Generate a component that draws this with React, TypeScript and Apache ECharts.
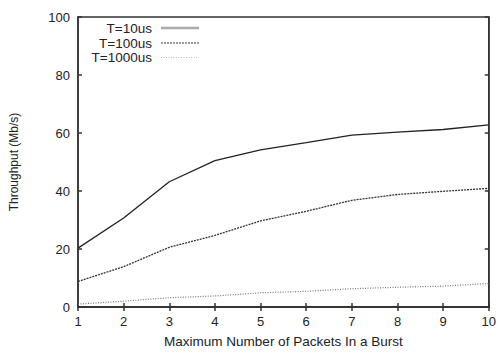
import React, { useEffect, useRef } from "react";
import * as echarts from "echarts";

const xValues = [1, 2, 3, 4, 5, 6, 7, 8, 9, 10];
const t10 = [20.3, 30.7, 43.2, 50.5, 54.2, 56.7, 59.3, 60.3, 61.2, 62.8];
const t100 = [8.8, 13.9, 20.6, 24.7, 29.7, 33.0, 36.8, 38.8, 39.9, 40.9];
const t1000 = [1.0, 2.0, 3.2, 3.8, 4.9, 5.4, 6.3, 6.8, 7.2, 8.1];
const seriesNames = ["T=10us", "T=100us", "T=1000us"];
const yTicks = [0, 20, 40, 60, 80, 100];

const FONT = "'Liberation Sans', Arial, sans-serif";

export default function App() {
  const ref = useRef<HTMLDivElement>(null);
  useEffect(() => {
    if (!ref.current) return;
    const chart = echarts.init(ref.current, null, { renderer: "svg" });
    const pairs = (ys: number[]) => xValues.map((x, i) => [x, ys[i]]);
    const axisLineStyle = { color: "#333", width: 1.5 };
    const legendY = [28, 43, 57.5];
    const legendStyles = [
      { stroke: "#aaa", lineWidth: 2.5, lineDash: null as any },
      { stroke: "#333", lineWidth: 1.2, lineDash: [2, 1] },
      { stroke: "#bbb", lineWidth: 1.2, lineDash: [1, 1.5] },
    ];
    const graphic: any[] = [];
    seriesNames.forEach((n, i) => {
      graphic.push({
        type: "text",
        x: 152,
        y: legendY[i],
        style: {
          text: n,
          font: `13.5px ${FONT}`,
          lineHeight: 13,
          fill: "#222",
          align: "right",
          verticalAlign: "middle",
        },
      });
      graphic.push({
        type: "line",
        shape: { x1: 161, y1: legendY[i], x2: 199, y2: legendY[i] },
        style: legendStyles[i],
      });
    });
    chart.setOption({
      animation: false,
      grid: {
        left: 77,
        right: 10,
        top: 17,
        bottom: 40,
        show: true,
        borderColor: "#333",
        borderWidth: 1.5,
      },
      graphic,
      xAxis: [
        {
          type: "value",
          min: 1,
          max: 10,
          interval: 1,
          name: "Maximum Number of Packets In a Burst",
          nameLocation: "middle",
          nameGap: 27,
          nameTextStyle: { fontFamily: FONT, fontSize: 13.5, color: "#222" },
          axisLine: { show: true, lineStyle: axisLineStyle },
          axisTick: { show: true, inside: true, length: 4, lineStyle: axisLineStyle },
          axisLabel: { fontFamily: FONT, fontSize: 13, color: "#222", margin: 8 },
          splitLine: { show: false },
        },
        {
          type: "value",
          position: "top",
          min: 1,
          max: 10,
          interval: 1,
          axisLine: { show: true, lineStyle: axisLineStyle },
          axisTick: { show: true, inside: true, length: 4, lineStyle: axisLineStyle },
          axisLabel: { show: false },
          splitLine: { show: false },
        },
      ],
      yAxis: [
        {
          type: "value",
          min: 0,
          max: 100,
          interval: 20,
          name: "Throughput (Mb/s)",
          nameLocation: "middle",
          nameGap: 58,
          nameTextStyle: { fontFamily: FONT, fontSize: 12, color: "#222" },
          axisLine: { show: true, lineStyle: axisLineStyle },
          axisTick: { show: true, inside: true, length: 4, lineStyle: axisLineStyle },
          axisLabel: {
            fontFamily: FONT,
            fontSize: 13,
            color: "#222",
            margin: 8,
            formatter: (v: number) => (yTicks.includes(v) ? String(v) : ""),
          },
          splitLine: { show: false },
        },
        {
          type: "value",
          position: "right",
          min: 0,
          max: 100,
          interval: 20,
          axisLine: { show: true, lineStyle: axisLineStyle },
          axisTick: { show: true, inside: true, length: 4, lineStyle: axisLineStyle },
          axisLabel: { show: false },
          splitLine: { show: false },
        },
      ],
      series: [
        {
          name: seriesNames[0],
          type: "line",
          data: pairs(t10),
          showSymbol: false,
          lineStyle: { color: "#222", width: 1.3 },
        },
        {
          name: seriesNames[1],
          type: "line",
          data: pairs(t100),
          showSymbol: false,
          lineStyle: { color: "#333", width: 1.3, type: [2, 1] },
        },
        {
          name: seriesNames[2],
          type: "line",
          data: pairs(t1000),
          showSymbol: false,
          lineStyle: { color: "#777", width: 1.2, type: [1, 1.5] },
        },
      ],
    });
    return () => chart.dispose();
  }, []);
  return (
    <div
      ref={ref}
      style={{ width: 499, height: 353, position: "absolute", left: 0, top: 0, background: "#fff" }}
    />
  );
}
